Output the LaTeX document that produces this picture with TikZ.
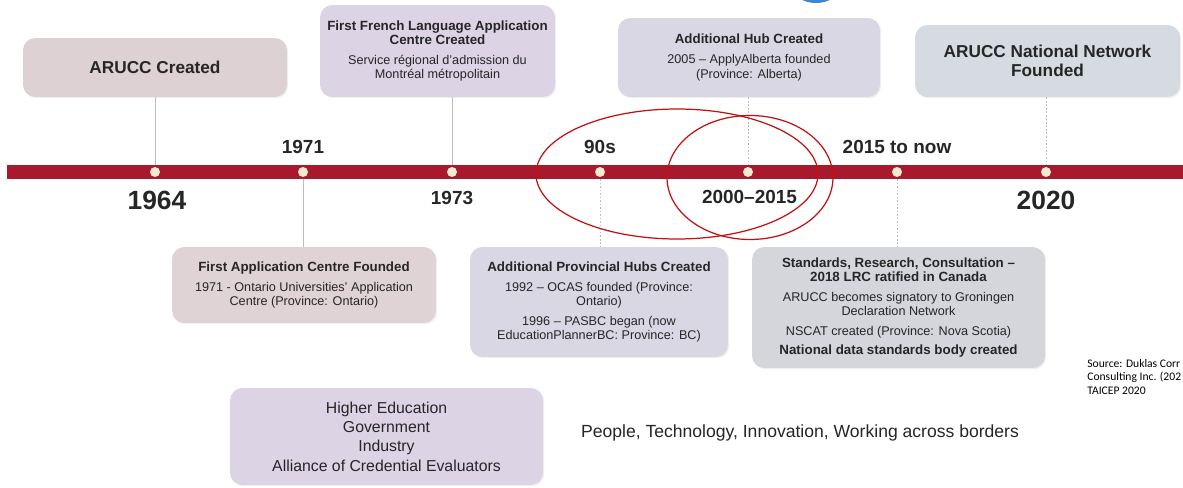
\documentclass[tikz,border=0pt]{standalone}
\usepackage{fontspec}
\setmainfont{Liberation Sans}
\newfontfamily\srcfont{Carlito}
\usetikzlibrary{shadows}

\definecolor{barred}{HTML}{A8192E}
\definecolor{dotcream}{HTML}{F4EAD4}
\definecolor{boxrose}{HTML}{DDD1D3}
\definecolor{boxlilac}{HTML}{DCD3E4}
\definecolor{boxmauve}{HTML}{DAD7E5}
\definecolor{boxslate}{HTML}{D6DBE1}
\definecolor{boxpink}{HTML}{E0D3D6}
\definecolor{boxgrey}{HTML}{D4D6DC}
\definecolor{linkgrey}{HTML}{BDBDBD}
\definecolor{ringred}{HTML}{C41010}
\definecolor{blobblue}{HTML}{3E86D0}

\newcommand{\hd}[1]{{\fontsize{7.6}{8.2}\selectfont\bfseries #1}}

\begin{document}
\begin{tikzpicture}[x=0.02cm, y=-0.02cm,
    box/.style={rounded corners=7pt, align=center, inner sep=0pt, text=black!85,
      font=\fontsize{7.2}{8.2}\selectfont,
      drop shadow={opacity=0.12, shadow xshift=0.7pt, shadow yshift=-0.7pt}},
    bigbox/.style={box, font=\fontsize{9.8}{10.5}\selectfont\bfseries},
    dot/.style={circle, fill=dotcream, inner sep=0pt, minimum size=0.2cm},
    year/.style={text=black!85, font=\fontsize{10.8}{12}\selectfont\bfseries},
    bigyear/.style={text=black!85, font=\fontsize{15}{17}\selectfont\bfseries},
    link/.style={draw=linkgrey, line width=0.5pt},
    dotlink/.style={link, dash pattern=on 1pt off 1pt},
    ring/.style={draw=ringred, line width=0.7pt}]

  \fill[white] (0,0) rectangle (1183,487);
  \useasboundingbox (0,0) rectangle (1183,487);

  % boxes above the line
  \node[bigbox, fill=boxrose, minimum width=5.28cm, minimum height=1.18cm] (b1964) at (155,67.5) {ARUCC Created};
  \node[box, fill=boxlilac, minimum width=4.7cm, minimum height=1.84cm] (b1973) at (437.5,51)
    {\hd{First French Language Application}\\ \hd{Centre Created}\\[3pt]
     Service régional d'admission du\\ Montréal métropolitain};
  \node[box, fill=boxmauve, minimum width=5.24cm, minimum height=1.58cm] (b2000) at (749,57.5)
    {\hd{Additional Hub Created}\\[3pt] 2005 -- ApplyAlberta founded\\ (Province: Alberta)};
  \node[bigbox, fill=boxslate, minimum width=5.3cm, minimum height=1.44cm] (b2020) at (1047.5,61)
    {ARUCC National Network\\ Founded};

  % boxes below the line
  \node[box, fill=boxpink, minimum width=5.28cm, minimum height=1.52cm] (b1971) at (304,285)
    {\hd{First Application Centre Founded}\\[3pt]
     1971 - Ontario Universities' Application\\ Centre (Province: Ontario)};
  \node[box, fill=boxmauve, minimum width=5.16cm, minimum height=2.2cm] (b90s) at (599,302)
    {\hd{Additional Provincial Hubs Created}\\[3pt]
     1992 -- OCAS founded (Province:\\ Ontario)\\[3pt]
     1996 -- PASBC began (now\\ EducationPlannerBC: Province: BC)};
  \node[box, fill=boxgrey, minimum width=5.86cm, minimum height=2.42cm] (b2015) at (898.5,307.5)
    {\hd{Standards, Research, Consultation --}\\ \hd{2018 LRC ratified in Canada}\\[3pt]
     ARUCC becomes signatory to Groningen\\ Declaration Network\\[3pt]
     NSCAT created (Province: Nova Scotia)\\[3pt]
     \hd{National data standards body created}};

  \node[box, fill=boxlilac, minimum width=6.26cm, minimum height=1.94cm,
        font=\fontsize{9}{11}\selectfont] (sectors) at (386.5,436.5)
    {Higher Education\\ Government\\ Industry\\ Alliance of Credential Evaluators};
  \node[text=black!85, font=\fontsize{10}{12}\selectfont] (motto) at (800,433)
    {People, Technology, Innovation, Working across borders};

  % the timeline
  \foreach \yr/\x in {1964/155, 1971/303, 1973/452, 90s/600, 2000/748, 2015/897, 2020/1046}
    \coordinate (p\yr) at (\x,172);

  \draw[link] (b1964) -- (p1964);
  \draw[link] (p1971) -- (b1971.north -| p1971);
  \draw[link] (b1973.south -| p1973) -- (p1973);
  \draw[dotlink] (p90s) -- (b90s.north -| p90s);
  \draw[dotlink] (b2000.south -| p2000) -- (p2000);
  \draw[dotlink] (p2015) -- (b2015.north -| p2015);
  \draw[dotlink] (b2020.south -| p2020) -- (p2020);

  \fill[barred] (7,165) rectangle (1183,179);

  \foreach \yr in {1964,1971,1973,90s,2000,2015,2020}
    \node[dot] (d\yr) at (p\yr) {};

  \node[bigyear] (l1964) at (157,200) {1964};
  \node[year] (l1971) at (303,147) {1971};
  \node[year] (l1973) at (452,198) {1973};
  \node[year] (l90s) at (600,147) {90s};
  \node[year] (l2000) at (749.5,197) {2000--2015};
  \node[year] (l2015) at (897,147) {2015 to now};
  \node[bigyear] (l2020) at (1046,200) {2020};

  \draw[ring] (677,174) ellipse [x radius=2.82cm, y radius=1.3cm];
  \draw[ring] (750,177.5) ellipse [x radius=1.66cm, y radius=1.24cm];

  \begin{scope}
    \clip (0,0) rectangle (1183,487);
    \fill[blobblue] (816,-30) circle [radius=0.66cm];
  \end{scope}
  \node[anchor=west, align=left, inner sep=0pt, font=\srcfont\fontsize{6.6}{7.6}\selectfont]
    (source) at (1087,377) {Source: Duklas Corr\\ Consulting Inc. (202\\ TAICEP 2020};

\end{tikzpicture}
\end{document}
